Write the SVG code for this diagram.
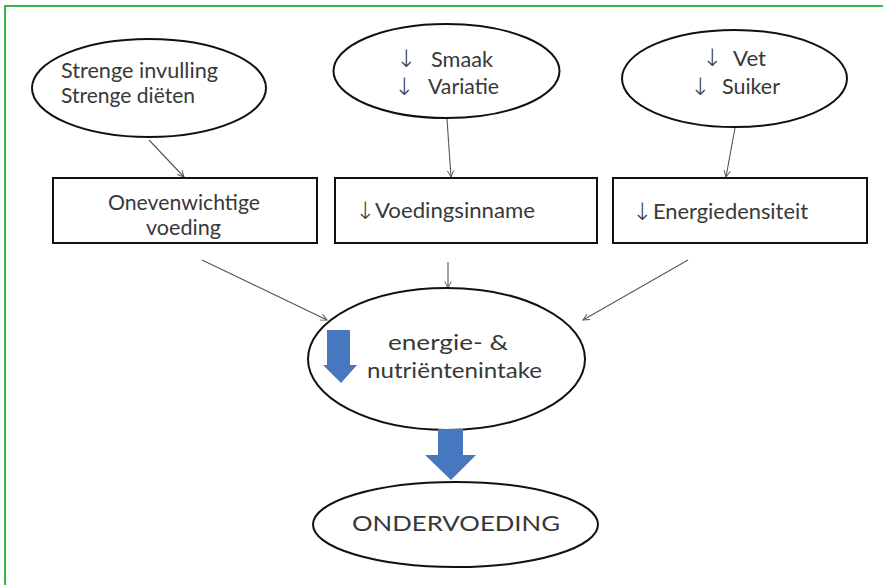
<svg xmlns="http://www.w3.org/2000/svg" width="883" height="585" viewBox="0 0 883 585">
<defs>
<style>
.node{fill:#fff;stroke:#111;stroke-width:2}
.t{font-family:Lato,"Liberation Sans",Arial,sans-serif;fill:#383838;font-size:21px}
.a{font-family:"DejaVu Sans",sans-serif;fill:#383838;font-size:24px;font-weight:200}
.conn line{stroke:#555;stroke-width:1.1;marker-end:url(#ah)}
.big{fill:#4677bf}
</style>
<marker id="ah" viewBox="0 0 10 10" refX="9" refY="5" markerWidth="8" markerHeight="8" orient="auto" markerUnits="userSpaceOnUse">
<path d="M1,1 L9,5 L1,9" fill="none" stroke="#555" stroke-width="1.2"/>
</marker>
</defs>
<rect x="0" y="0" width="883" height="585" fill="#fff"/>
<rect x="5" y="6" width="900" height="600" fill="none" stroke="#3bb54a" stroke-width="2"/>

<g id="conns" class="conn">
<line x1="149" y1="140" x2="184" y2="177"/>
<line x1="447" y1="119" x2="451" y2="177"/>
<line x1="735" y1="128" x2="726" y2="177"/>
<line x1="202" y1="260" x2="327" y2="320"/>
<line x1="448" y1="262" x2="448" y2="288"/>
<line x1="688" y1="260" x2="583" y2="320"/>
</g>

<g id="e1">
<ellipse class="node" cx="149" cy="88" rx="117" ry="49"/>
<text class="t" x="61" y="78" textLength="157" lengthAdjust="spacingAndGlyphs" font-size="22">Strenge invulling</text>
<text class="t" x="61" y="103" textLength="134" lengthAdjust="spacingAndGlyphs" font-size="22">Strenge diëten</text>
</g>
<g id="e2">
<ellipse class="node" cx="446.5" cy="71" rx="113" ry="47"/>
<text class="a" x="396" y="67">↓</text>
<text class="t" x="431" y="67" textLength="62" lengthAdjust="spacingAndGlyphs">Smaak</text>
<text class="a" x="394" y="95">↓</text>
<text class="t" x="428" y="94" textLength="71" lengthAdjust="spacingAndGlyphs">Variatie</text>
</g>
<g id="e3">
<ellipse class="node" cx="734.5" cy="78.5" rx="112.5" ry="48.5"/>
<text class="a" x="702" y="66">↓</text>
<text class="t" x="733" y="66" textLength="33" lengthAdjust="spacingAndGlyphs">Vet</text>
<text class="a" x="690" y="95">↓</text>
<text class="t" x="722" y="94" textLength="58" lengthAdjust="spacingAndGlyphs">Suiker</text>
</g>

<g id="b1">
<rect class="node" x="53" y="178" width="264" height="65" stroke-width="2.5"/>
<text class="t" x="108" y="210" textLength="152" lengthAdjust="spacingAndGlyphs" font-size="23">Onevenwichtige</text>
<text class="t" x="146" y="235" textLength="75" lengthAdjust="spacingAndGlyphs" font-size="23">voeding</text>
</g>
<g id="b2">
<rect class="node" x="335" y="178" width="262" height="65" stroke-width="2.5"/>
<text class="a" x="355" y="219">↓</text>
<text class="t" x="375" y="218" textLength="160" lengthAdjust="spacingAndGlyphs" font-size="23">Voedingsinname</text>
</g>
<g id="b3">
<rect class="node" x="613" y="178" width="254" height="65" stroke-width="2.5"/>
<text class="a" x="632" y="220">↓</text>
<text class="t" x="653" y="219" textLength="155" lengthAdjust="spacingAndGlyphs" font-size="23">Energiedensiteit</text>
</g>

<g id="e4">
<ellipse class="node" cx="446.5" cy="359" rx="138.5" ry="71" stroke-width="2.5"/>
<path class="big" d="M327,330 H350 V365 H357 L341,383 L323,365 H327 Z"/>
<text class="t" x="388" y="350" textLength="120" lengthAdjust="spacingAndGlyphs" font-size="24">energie- &amp;</text>
<text class="t" x="367" y="378" textLength="175" lengthAdjust="spacingAndGlyphs" font-size="24">nutriëntenintake</text>
</g>

<g id="bigarrow">
<path class="big" d="M438,429 H463 V455 H476 L451,480 L425,455 H438 Z"/>
</g>

<g id="e5">
<ellipse class="node" cx="455.5" cy="524.5" rx="142.5" ry="42.5"/>
<text class="t" x="352" y="531" textLength="208" lengthAdjust="spacingAndGlyphs" font-size="25">ONDERVOEDING</text>
</g>
</svg>
